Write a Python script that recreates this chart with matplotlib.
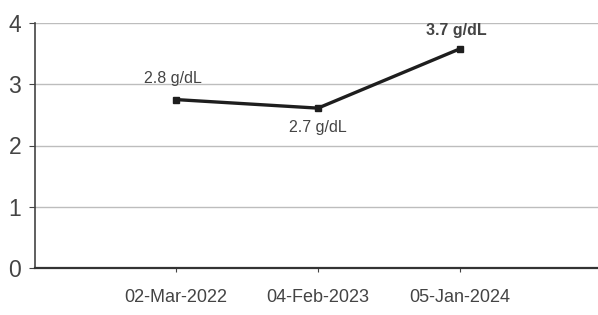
import matplotlib
matplotlib.use("Agg")
import matplotlib.pyplot as plt

dates = ["02-Mar-2022", "04-Feb-2023", "05-Jan-2024"]
values = [2.75, 2.61, 3.58]
point_labels = ["2.8 g/dL", "2.7 g/dL", "3.7 g/dL"]
y_ticks = [0, 1, 2, 3, 4]

plt.rcParams['font.family'] = ['Liberation Sans', 'DejaVu Sans']

fig = plt.figure(figsize=(5.98, 3.15), dpi=100)
ax = fig.add_axes([35/598, 1 - 268/315, 1 - 35/598, (268 - 23)/315])

x = list(range(len(dates)))
ax.plot(x, values, color='#1e1e1e', lw=2.4, marker='s', ms=5, zorder=3)

offsets = [(-2, 15), (0, -14), (-3, 13)]
weights = ['normal', 'normal', 'bold']
for xi, v, lab, off, w in zip(x, values, point_labels, offsets, weights):
    ax.annotate(lab, (xi, v), xytext=off, textcoords='offset points',
                ha='center', va='center', fontsize=11.5, color='#444444', fontweight=w)

ax.set_xlim(-0.99, 2.97)
ax.set_ylim(0, 4)
ax.set_yticks(y_ticks)
ax.set_xticks(x)
ax.set_xticklabels(dates)
ax.grid(axis='y', color='#bdbdbd', lw=1)
ax.set_axisbelow(True)
for s in ['top', 'right']:
    ax.spines[s].set_visible(False)
ax.spines['left'].set_color('#444444')
ax.spines['bottom'].set_color('#333333')
ax.spines['left'].set_linewidth(1.2)
ax.spines['bottom'].set_linewidth(1.6)
ax.tick_params(axis='y', labelsize=16.5, colors='#444444', length=4, pad=6)
ax.tick_params(axis='x', labelsize=13, colors='#444444', length=3, pad=12)

fig.savefig("out.png", dpi=100)
